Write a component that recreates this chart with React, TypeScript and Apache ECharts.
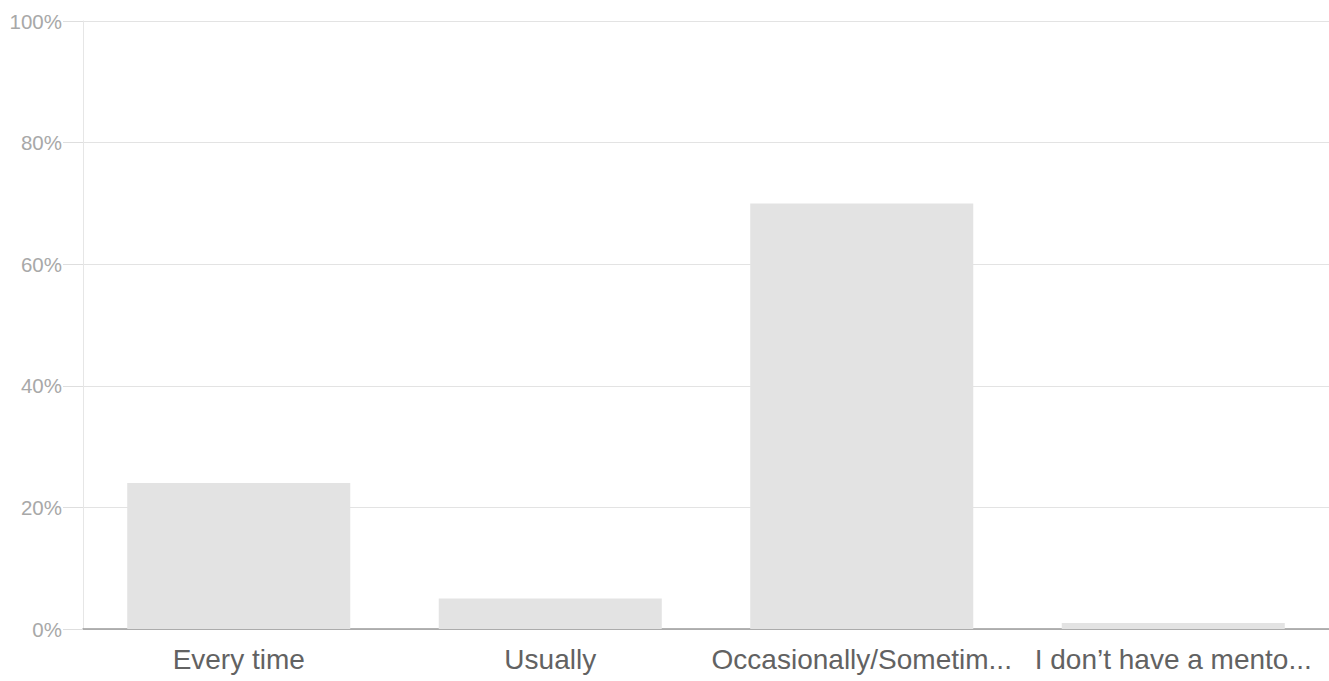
import React, { useEffect, useRef } from "react";
import * as echarts from "echarts";

const categories = ["Every time", "Usually", "Occasionally/Sometim...", "I don\u2019t have a mento..."];
const values = [24, 5, 70, 1];
const yTicks = [0, 20, 40, 60, 80, 100];

export default function App() {
  const ref = useRef<HTMLDivElement>(null);
  useEffect(() => {
    const chart = echarts.init(ref.current!, null, { renderer: "svg" });
    chart.setOption({
      animation: false,
      backgroundColor: "#ffffff",
      grid: { left: 83, right: 0, top: 21, bottom: 52 },
      xAxis: {
        type: "category",
        data: categories,
        axisLine: { show: true, lineStyle: { color: "#9a9a9a", width: 1.5 } },
        axisTick: { show: false },
        axisLabel: {
          color: "#626262",
          fontSize: 28,
          fontFamily: "Liberation Sans, Arial, sans-serif",
          margin: 16,
          interval: 0,
        },
      },
      yAxis: {
        type: "value",
        min: yTicks[0],
        max: yTicks[yTicks.length - 1],
        interval: 20,
        axisLine: { show: true, lineStyle: { color: "#e6e6e6" } },
        axisTick: { show: true, inside: false, length: 20, lineStyle: { color: "#dedede", width: 1 } },
        splitLine: { show: true, lineStyle: { color: "#e3e3e3" } },
        axisLabel: {
          color: "#a8a8a8",
          fontSize: 20.5,
          fontFamily: "Liberation Sans, Arial, sans-serif",
          margin: 21,
          formatter: "{value}%",
        },
      },
      series: [
        {
          type: "bar",
          data: values,
          barCategoryGap: "28.4%",
          itemStyle: { color: "#e3e3e3" },
        },
      ],
    });
    return () => chart.dispose();
  }, []);
  return (
    <div
      ref={ref}
      style={{ position: "fixed", left: 0, top: 0, width: 1329, height: 681, background: "#fff" }}
    />
  );
}
